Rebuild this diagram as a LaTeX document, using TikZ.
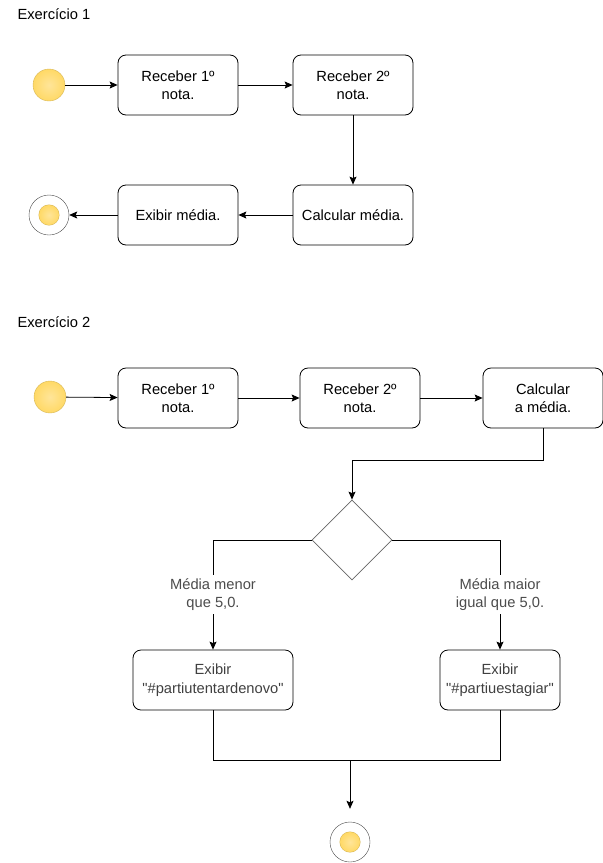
\documentclass[tikz,border=0pt]{standalone}
\usepackage{fontspec}
\setmainfont{Liberation Sans}
\newfontfamily\plainquote{Liberation Sans}
\newcommand{\qmark}{{\plainquote"}}
\usepackage{tikz}
\usetikzlibrary{arrows.meta,shapes.geometric}
\definecolor{startfill}{HTML}{FFE599}
\definecolor{startdark}{HTML}{FFD966}
\definecolor{startline}{HTML}{D6B656}

\begin{document}
\begin{tikzpicture}[x=1pt,y=-1pt]
\tikzset{vertex/.style = {shape=rectangle,draw,rounded corners=8pt,minimum width=120pt,minimum height=60pt,align=center,font=\fontsize{14.7}{18.5}\selectfont,line width=0.8pt}}
\tikzset{edge/.style = {->,> = {Stealth[length=8pt,width=7pt,inset=1.5pt]},line width=0.8pt}}
\tikzset{begin/.style = {shape=circle,draw=startline,inner color=startfill,outer color=startdark,minimum size=32pt,inner sep=0pt}}
\tikzset{finish/.style = {shape=circle,draw=black!70,fill=white,minimum size=40pt,inner sep=0pt,path picture={\fill[startline] (path picture bounding box.center) circle (10.5pt);\shade[inner color=startfill,outer color=startdark] (path picture bounding box.center) circle (10pt);}}}
\tikzset{choice/.style = {shape=diamond,draw=black!60,minimum size=80pt,inner sep=0pt,line width=0.8pt}}
\tikzset{title/.style = {anchor=west,font=\fontsize{14.7}{18.5}\selectfont}}
\tikzset{guard/.style = {fill=white,align=center,text=black!70,font=\fontsize{14.7}{18.5}\selectfont}}

\useasboundingbox (0,0) rectangle (603,863);

%Exercicio 1
\node[title] (t1) at (14,14) {Exercício 1};
\node[begin] (s1) at (49,85) {};
\node[vertex] (a) at (178,85) {Receber 1º\\nota.};
\node[vertex] (b) at (353,85) {Receber 2º\\nota.};
\node[vertex] (c) at (353,215) {Calcular média.};
\node[vertex] (d) at (178,215) {Exibir média.};
\node[finish] (e1) at (49,215) {};

\draw[edge] (s1) -- (a);
\draw[edge] (a) -- (b);
\draw[edge] (b) -- (c);
\draw[edge] (c) -- (d);
\draw[edge] (d) -- (e1);

%Exercicio 2
\node[title] (t2) at (14,322) {Exercício 2};
\node[begin] (s2) at (50,397) {};
\node[vertex] (f) at (178,398) {Receber 1º\\nota.};
\node[vertex] (g) at (360,398) {Receber 2º\\nota.};
\node[vertex] (h) at (543,398) {Calcular\\a média.};
\node[choice] (k) at (352,540) {};
\node[vertex,minimum width=160pt,text=black!75] (l) at (213,680) {Exibir\\\qmark\#partiutentardenovo\qmark};
\node[vertex,text=black!75] (m) at (500,680) {Exibir\\\qmark\#partiuestagiar\qmark};
\node[finish] (e2) at (350,842) {};
\coordinate (j) at (350,760);

\draw[edge] (s2) -- (f);
\draw[edge] (f) -- (g);
\draw[edge] (g) -- (h);
\draw[edge] (h.south) |- (352,460) -- (k.north);
\draw[edge] (k.west) -| node[guard,pos=0.75] {Média menor\\que 5,0.} (l.north);
\draw[edge] (k.east) -| node[guard,pos=0.75] {Média maior\\igual que 5,0.} (m.north);
\draw[line width=0.8pt] (l.south) |- (j) -| (m.south);
\draw[edge,shorten >=13pt] (j) -- (e2);

\end{tikzpicture}
\end{document}
